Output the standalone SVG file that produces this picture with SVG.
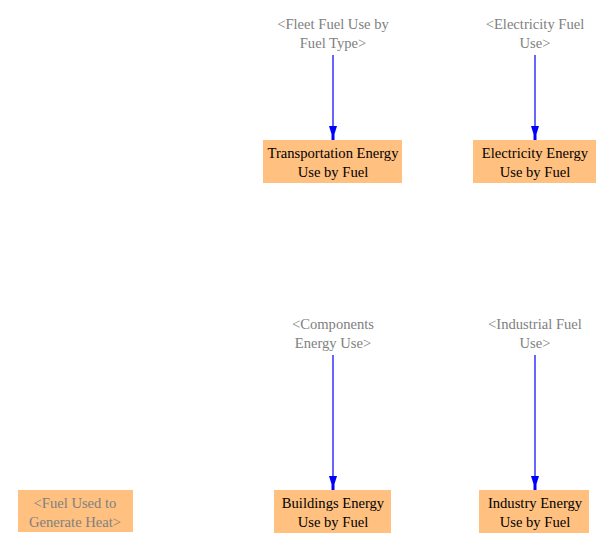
<svg xmlns="http://www.w3.org/2000/svg" width="609" height="551" viewBox="0 0 609 551" font-family="'Liberation Serif', 'DejaVu Serif', 'Times New Roman', serif">
<style>
.box{fill:#FFC080;stroke:none}
text{font-family:'Liberation Serif','DejaVu Serif','Times New Roman',serif;font-size:14.6px;text-anchor:middle;fill:#000}
text.g{fill:#808080}
.c{stroke:#0000FF;stroke-width:1.2;fill:none}
.ah{fill:#0000FF}
</style>
<rect width="609" height="551" fill="#fff"/>
<g id="connectors">
<line class="c" x1="333" y1="55" x2="333" y2="128"/>
<line class="c" x1="535" y1="55" x2="535" y2="128"/>
<line class="c" x1="333" y1="355" x2="333" y2="478"/>
<line class="c" x1="535" y1="355" x2="535" y2="478"/>
<path class="ah" d="M329,126 L337,126 L334.5,134 L334.5,140 L331.5,140 L331.5,134 Z"/>
<path class="ah" d="M531,126 L539,126 L536.5,134 L536.5,140 L533.5,140 L533.5,134 Z"/>
<path class="ah" d="M329,476 L337,476 L334.5,484 L334.5,490 L331.5,490 L331.5,484 Z"/>
<path class="ah" d="M531,476 L539,476 L536.5,484 L536.5,490 L533.5,490 L533.5,484 Z"/>
</g>
<g id="fleet-fuel">
<text class="g" x="333" y="29">&lt;Fleet Fuel Use by</text>
<text class="g" x="333" y="48">Fuel Type&gt;</text>
</g>
<g id="electricity-fuel">
<text class="g" x="535" y="29">&lt;Electricity Fuel</text>
<text class="g" x="535" y="48">Use&gt;</text>
</g>
<g id="transportation">
<rect class="box" x="263" y="140" width="139" height="43"/>
<text x="333" y="158">Transportation Energy</text>
<text x="333" y="177">Use by Fuel</text>
</g>
<g id="electricity">
<rect class="box" x="473" y="140" width="123" height="43"/>
<text x="535" y="158">Electricity Energy</text>
<text x="535" y="177">Use by Fuel</text>
</g>
<g id="components">
<text class="g" x="333" y="329">&lt;Components</text>
<text class="g" x="333" y="348">Energy Use&gt;</text>
</g>
<g id="industrial-fuel">
<text class="g" x="535" y="329">&lt;Industrial Fuel</text>
<text class="g" x="535" y="348">Use&gt;</text>
</g>
<g id="buildings">
<rect class="box" x="274" y="490" width="117" height="43"/>
<text x="333" y="508">Buildings Energy</text>
<text x="333" y="527">Use by Fuel</text>
</g>
<g id="industry">
<rect class="box" x="479" y="490" width="110" height="43"/>
<text x="535" y="508">Industry Energy</text>
<text x="535" y="527">Use by Fuel</text>
</g>
<g id="fuel-heat">
<rect class="box" x="18" y="490" width="115" height="42"/>
<text class="g" x="75" y="508">&lt;Fuel Used to</text>
<text class="g" x="75" y="527">Generate Heat&gt;</text>
</g>
</svg>
